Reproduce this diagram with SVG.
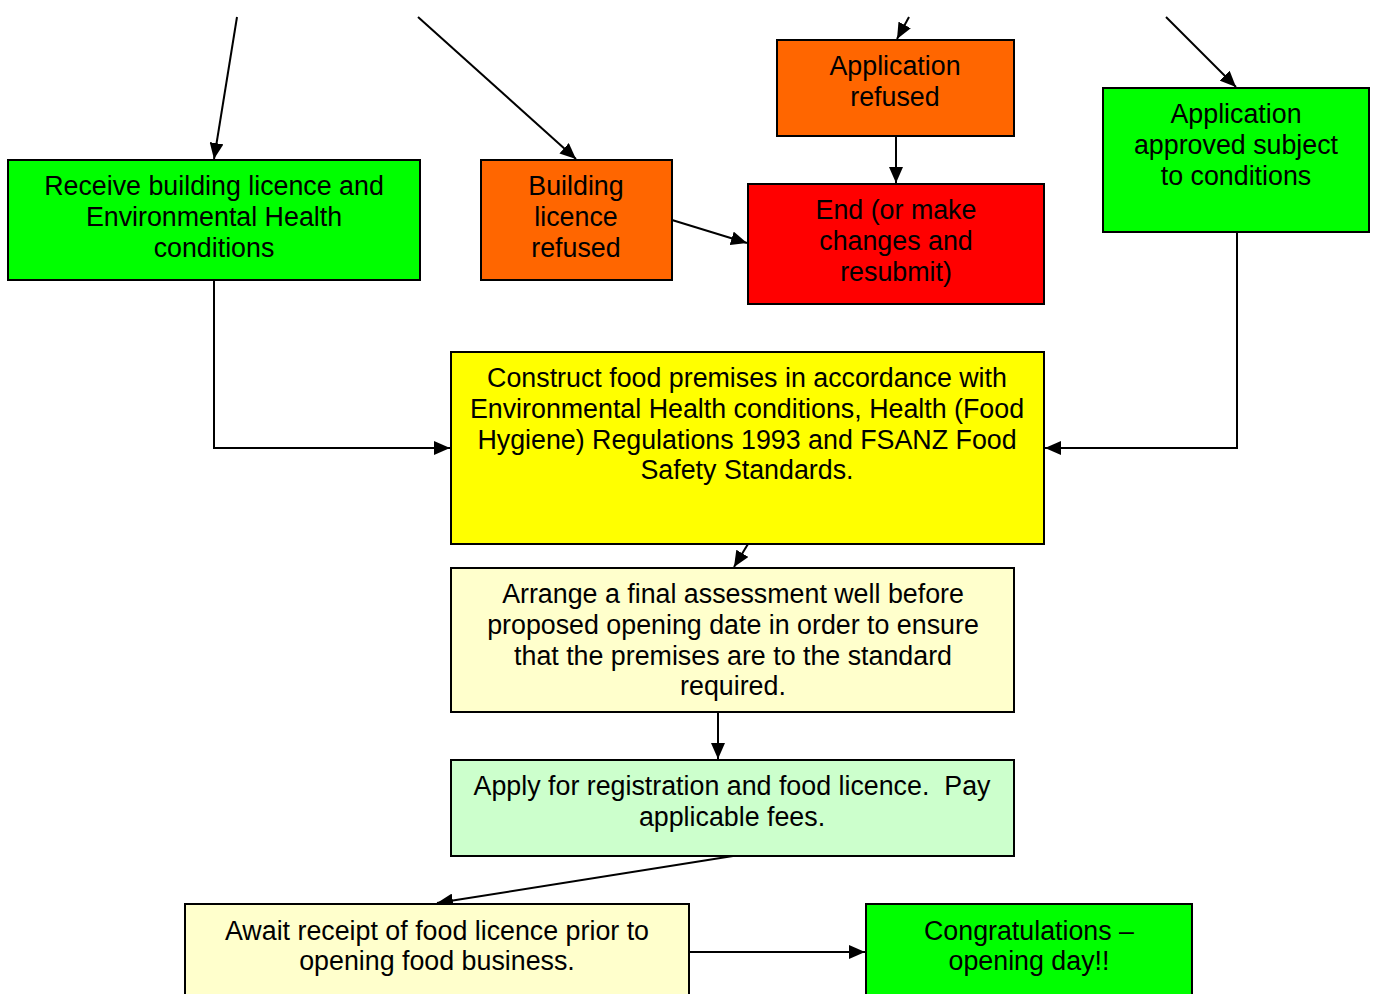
<svg xmlns="http://www.w3.org/2000/svg" width="1376" height="994" viewBox="0 0 1376 994">
<style>
.box{stroke:#000;stroke-width:2}
.t{font-family:"Liberation Sans",Arial,sans-serif;font-size:26.8px;fill:#000;text-anchor:middle}
.c{fill:none;stroke:#000;stroke-width:2}
</style>
<defs>
<marker id="ah" viewBox="0 0 16 14" refX="16" refY="7" markerWidth="16" markerHeight="14" markerUnits="userSpaceOnUse" orient="auto">
<path d="M0,0 L16,7 L0,14 Z" fill="#000"/>
</marker>
</defs>
<rect width="1376" height="994" fill="#fff"/>
<g id="connectors">
<line class="c" x1="237" y1="17" x2="214" y2="159" marker-end="url(#ah)"/>
<line class="c" x1="418" y1="17" x2="576" y2="159" marker-end="url(#ah)"/>
<line class="c" x1="909" y1="17" x2="897" y2="39" marker-end="url(#ah)"/>
<line class="c" x1="1166" y1="17" x2="1236" y2="87" marker-end="url(#ah)"/>
<line class="c" x1="896" y1="136" x2="896" y2="183" marker-end="url(#ah)"/>
<line class="c" x1="672" y1="220" x2="747" y2="243" marker-end="url(#ah)"/>
<polyline class="c" points="214,280 214,448 450,448" marker-end="url(#ah)"/>
<polyline class="c" points="1237,232 1237,448 1045,448" marker-end="url(#ah)"/>
<line class="c" x1="748" y1="544" x2="734" y2="567" marker-end="url(#ah)"/>
<line class="c" x1="718" y1="712" x2="718" y2="759" marker-end="url(#ah)"/>
<line class="c" x1="733" y1="856" x2="437" y2="903" marker-end="url(#ah)"/>
<line class="c" x1="689" y1="952" x2="865" y2="952" marker-end="url(#ah)"/>
</g>
<g id="receive">
<rect class="box" x="8" y="160" width="412" height="120" fill="#00FF00"/>
<text class="t" x="214" y="195">Receive building licence and</text>
<text class="t" x="214" y="226">Environmental Health</text>
<text class="t" x="214" y="257">conditions</text>
</g>
<g id="building-refused">
<rect class="box" x="481" y="160" width="191" height="120" fill="#FF6600"/>
<text class="t" x="576" y="195">Building</text>
<text class="t" x="576" y="226">licence</text>
<text class="t" x="576" y="257">refused</text>
</g>
<g id="application-refused">
<rect class="box" x="777" y="40" width="237" height="96" fill="#FF6600"/>
<text class="t" x="895" y="75">Application</text>
<text class="t" x="895" y="106">refused</text>
</g>
<g id="end">
<rect class="box" x="748" y="184" width="296" height="120" fill="#FF0000"/>
<text class="t" x="896" y="219">End (or make</text>
<text class="t" x="896" y="250">changes and</text>
<text class="t" x="896" y="281">resubmit)</text>
</g>
<g id="approved">
<rect class="box" x="1103" y="88" width="266" height="144" fill="#00FF00"/>
<text class="t" x="1236" y="123">Application</text>
<text class="t" x="1236" y="154">approved subject</text>
<text class="t" x="1236" y="185">to conditions</text>
</g>
<g id="construct">
<rect class="box" x="451" y="352" width="593" height="192" fill="#FFFF00"/>
<text class="t" x="747" y="387">Construct food premises in accordance with</text>
<text class="t" x="747" y="418">Environmental Health conditions, Health (Food</text>
<text class="t" x="747" y="449">Hygiene) Regulations 1993 and FSANZ Food</text>
<text class="t" x="747" y="479">Safety Standards.</text>
</g>
<g id="assessment">
<rect class="box" x="451" y="568" width="563" height="144" fill="#FFFFCC"/>
<text class="t" x="733" y="603">Arrange a final assessment well before</text>
<text class="t" x="733" y="634">proposed opening date in order to ensure</text>
<text class="t" x="733" y="665">that the premises are to the standard</text>
<text class="t" x="733" y="695">required.</text>
</g>
<g id="apply">
<rect class="box" x="451" y="760" width="563" height="96" fill="#CCFFCC"/>
<text class="t" x="732" y="795" xml:space="preserve">Apply for registration and food licence.  Pay</text>
<text class="t" x="732" y="826">applicable fees.</text>
</g>
<g id="await">
<rect class="box" x="185" y="904" width="504" height="100" fill="#FFFFCC"/>
<text class="t" x="437" y="940">Await receipt of food licence prior to</text>
<text class="t" x="437" y="970">opening food business.</text>
</g>
<g id="congrats">
<rect class="box" x="866" y="904" width="326" height="100" fill="#00FF00"/>
<text class="t" x="1029" y="940">Congratulations –</text>
<text class="t" x="1029" y="970">opening day!!</text>
</g>
</svg>
